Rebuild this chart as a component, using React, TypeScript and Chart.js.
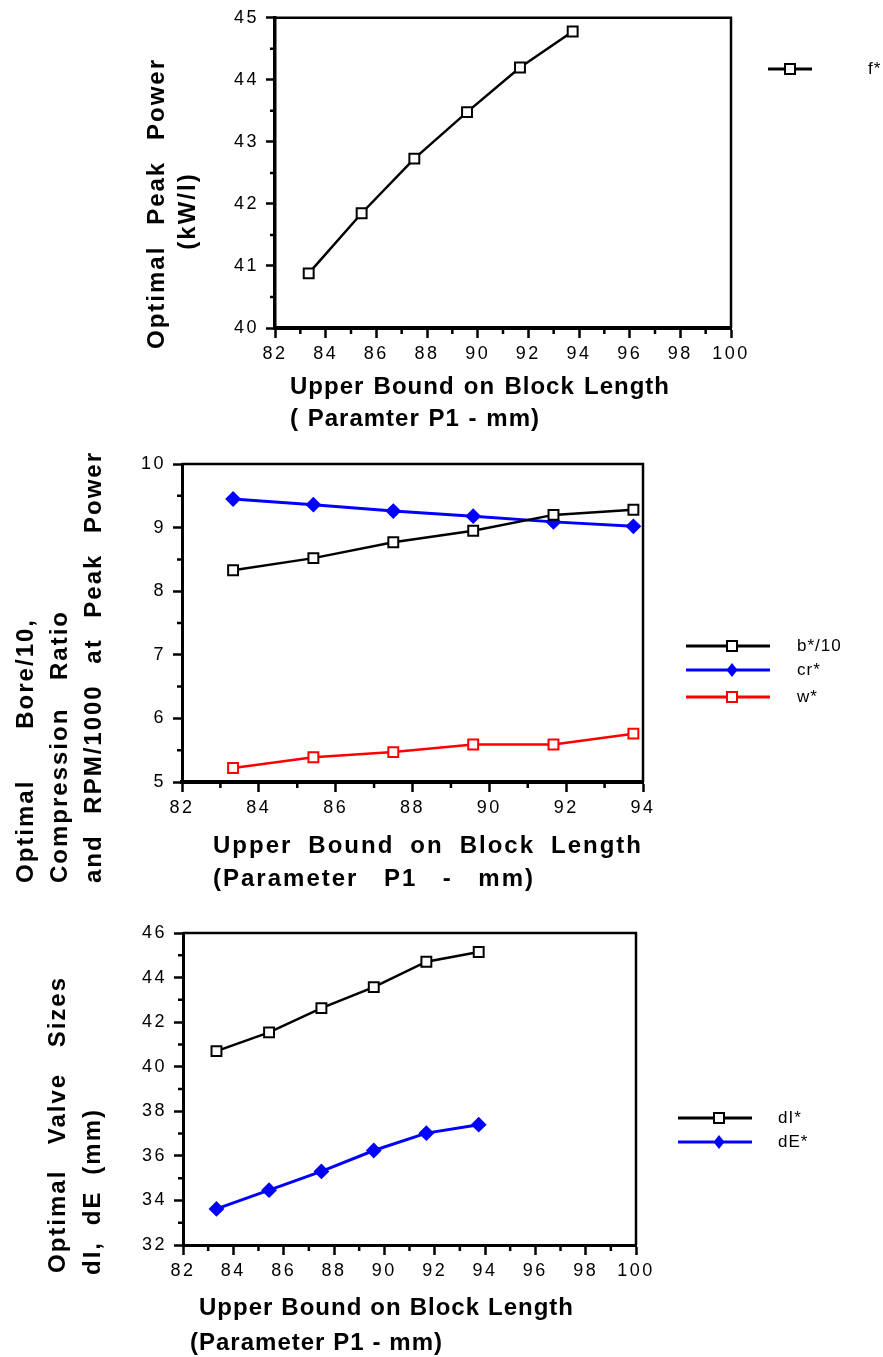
import React, { useEffect, useRef } from 'react';
import { Chart, registerables } from 'chart.js';

Chart.register(...registerables);

// ---------------- data ----------------
const P1 = [83.33, 85.42, 87.5, 89.58, 91.67, 93.75];
const peakPower = [40.88, 41.85, 42.73, 43.48, 44.2, 44.78];
const bore10 = [8.33, 8.52, 8.77, 8.95, 9.2, 9.28];
const compRatio = [9.45, 9.36, 9.26, 9.18, 9.09, 9.02];
const rpm1000 = [5.22, 5.39, 5.47, 5.59, 5.59, 5.76];
const intakeValve = [40.7, 41.54, 42.63, 43.57, 44.71, 45.15];
const exhaustValve = [33.62, 34.46, 35.3, 36.24, 37.02, 37.4];

const xRange1 = [82, 100];
const yRange1 = [40, 45];
const xRange2 = [82, 94];
const yRange2 = [5, 10];
const xRange3 = [82, 100];
const yRange3 = [32, 46];

const legend1 = ['f*'];
const legend2 = ['b*/10', 'cr*', 'w*'];
const legend3 = ['dI*', 'dE*'];

const W = 883;
const FONT = '"Liberation Sans", Arial, Helvetica, sans-serif';

type Series = { label: string; values: number[]; color: string; width: number; marker: 'square' | 'diamond' };
type TitleLine = { words: string[]; dir: 'h' | 'v'; cross: number; from: number; to?: number; spacing: number };
type LegendSpec = { x0: number; x1: number; mx: number; lx: number; ys: number[] };
type Panel = {
  height: number;
  xRange: number[];
  yRange: number[];
  xStep: number;
  yStep: number;
  xMinor: number;
  yMinor: number;
  series: Series[];
  area: { left: number; right: number; top: number; bottom: number };
  bottomWidth: number;
  leftWidth: number;
  frameWidth: number;
  titles: TitleLine[];
  legend: LegendSpec;
};

const BLACK = '#000000';
const BLUE = '#0000ff';
const RED = '#ff0000';

const PANELS: Panel[] = [
  {
    height: 440,
    xRange: xRange1, yRange: yRange1, xStep: 2, yStep: 1, xMinor: 1, yMinor: 0.5,
    series: [{ label: legend1[0], values: peakPower, color: BLACK, width: 2.5, marker: 'square' }],
    area: { left: 275, right: 731, top: 11, bottom: 328 },
    bottomWidth: 4, leftWidth: 3.5, frameWidth: 2.5,
    titles: [
      { words: ['Optimal', 'Peak', 'Power'], dir: 'v', cross: 157, from: 349, to: 60, spacing: 2 },
      { words: ['(kW/l)'], dir: 'v', cross: 188, from: 212, spacing: 2 },
      { words: ['Upper', 'Bound', 'on', 'Block', 'Length'], dir: 'h', cross: 387, from: 290, to: 669, spacing: 1 },
      { words: ['(', 'Paramter', 'P1', '-', 'mm)'], dir: 'h', cross: 419, from: 290, to: 539, spacing: 1 },
    ],
    legend: { x0: 768, x1: 812, mx: 790, lx: 868, ys: [69] },
  },
  {
    height: 460,
    xRange: xRange2, yRange: yRange2, xStep: 2, yStep: 1, xMinor: 1, yMinor: 0.5,
    series: [
      { label: legend2[0], values: bore10, color: BLACK, width: 2.5, marker: 'square' },
      { label: legend2[1], values: compRatio, color: BLUE, width: 3, marker: 'diamond' },
      { label: legend2[2], values: rpm1000, color: RED, width: 2.5, marker: 'square' },
    ],
    area: { left: 182, right: 643, top: 24, bottom: 342 },
    bottomWidth: 4, leftWidth: 3, frameWidth: 2.5,
    titles: [
      { words: ['Optimal', 'Bore/10,'], dir: 'v', cross: 26, from: 443, to: 180, spacing: 2 },
      { words: ['Compression', 'Ratio'], dir: 'v', cross: 60, from: 443, to: 172, spacing: 2 },
      { words: ['and', 'RPM/1000', 'at', 'Peak', 'Power'], dir: 'v', cross: 94, from: 443, to: 13, spacing: 2 },
      { words: ['Upper', 'Bound', 'on', 'Block', 'Length'], dir: 'h', cross: 406, from: 213, to: 641, spacing: 2 },
      { words: ['(Parameter', 'P1', '-', 'mm)'], dir: 'h', cross: 439, from: 213, to: 533, spacing: 2 },
    ],
    legend: { x0: 686, x1: 770, mx: 732, lx: 797, ys: [206, 230, 257] },
  },
  {
    height: 457,
    xRange: xRange3, yRange: yRange3, xStep: 2, yStep: 2, xMinor: 1, yMinor: 1,
    series: [
      { label: legend3[0], values: intakeValve, color: BLACK, width: 2.5, marker: 'square' },
      { label: legend3[1], values: exhaustValve, color: BLUE, width: 3, marker: 'diamond' },
    ],
    area: { left: 183, right: 636, top: 33, bottom: 345 },
    bottomWidth: 3, leftWidth: 3, frameWidth: 2.5,
    titles: [
      { words: ['Optimal', 'Valve', 'Sizes'], dir: 'v', cross: 58, from: 373, to: 78, spacing: 2 },
      { words: ['dI,', 'dE', '(mm)'], dir: 'v', cross: 93, from: 375, to: 210, spacing: 2 },
      { words: ['Upper', 'Bound', 'on', 'Block', 'Length'], dir: 'h', cross: 408, from: 199, to: 573, spacing: 1 },
      { words: ['(Parameter', 'P1', '-', 'mm)'], dir: 'h', cross: 443, from: 190, to: 442, spacing: 1 },
    ],
    legend: { x0: 678, x1: 752, mx: 719, lx: 778, ys: [218, 242] },
  },
];

const Y_AXIS_W = 60;
const X_AXIS_H = 40;

function drawTitleLine(ctx: any, ln: TitleLine) {
  ctx.save();
  ctx.font = 'bold 24px ' + FONT;
  ctx.letterSpacing = ln.spacing + 'px';
  ctx.fillStyle = '#000';
  ctx.textBaseline = 'middle';
  ctx.textAlign = 'left';
  const widths = ln.words.map((w) => ctx.measureText(w).width - ln.spacing);
  const total = widths.reduce((s, v) => s + v, 0);
  const n = ln.words.length;
  let gap: number;
  let start: number;
  if (ln.to === undefined) {
    gap = ctx.measureText(' ').width;
    const full = total + gap * (n - 1);
    start = ln.dir === 'v' ? ln.from + full / 2 : ln.from - full / 2;
  } else {
    const span = Math.abs(ln.to - ln.from);
    gap = n > 1 ? (span - total) / (n - 1) : 0;
    start = ln.from;
  }
  let d = 0;
  ln.words.forEach((w, i) => {
    if (ln.dir === 'v') {
      ctx.save();
      ctx.translate(ln.cross, start - d);
      ctx.rotate(-Math.PI / 2);
      ctx.fillText(w, 0, 0);
      ctx.restore();
    } else {
      ctx.fillText(w, start + d, ln.cross);
    }
    d += widths[i] + gap;
  });
  ctx.restore();
}

function drawMarker(ctx: any, kind: string, color: string, x: number, y: number) {
  ctx.save();
  ctx.lineWidth = 2;
  ctx.strokeStyle = color;
  if (kind === 'square') {
    ctx.fillStyle = '#fff';
    ctx.fillRect(x - 5, y - 5, 10, 10);
    ctx.strokeRect(x - 5, y - 5, 10, 10);
  } else {
    ctx.fillStyle = color;
    ctx.beginPath();
    ctx.moveTo(x, y - 7);
    ctx.lineTo(x + 5.5, y);
    ctx.lineTo(x, y + 7);
    ctx.lineTo(x - 5.5, y);
    ctx.closePath();
    ctx.fill();
  }
  ctx.restore();
}

function decorPlugin(p: Panel) {
  return {
    id: 'decor',
    beforeDraw(chart: any) {
      chart.ctx.letterSpacing = '2.5px';
    },
    afterDraw(chart: any) {
      const ctx = chart.ctx;
      const a = chart.chartArea;
      const xs = chart.scales.x;
      const ys = chart.scales.y;
      ctx.save();
      ctx.letterSpacing = '0px';
      // top and right frame
      ctx.strokeStyle = '#000';
      ctx.lineWidth = p.frameWidth;
      ctx.beginPath();
      ctx.moveTo(a.left, a.top);
      ctx.lineTo(a.right, a.top);
      ctx.lineTo(a.right, a.bottom);
      ctx.stroke();
      // minor ticks
      ctx.lineWidth = 2.5;
      ctx.beginPath();
      const nx = Math.round((p.xRange[1] - p.xRange[0]) / p.xMinor);
      for (let i = 0; i <= nx; i++) {
        const v = p.xRange[0] + i * p.xMinor;
        const q = (v - p.xRange[0]) / p.xStep;
        if (Math.abs(q - Math.round(q)) < 1e-6) continue;
        const px = xs.getPixelForValue(v);
        ctx.moveTo(px, a.bottom);
        ctx.lineTo(px, a.bottom + 6);
      }
      const ny = Math.round((p.yRange[1] - p.yRange[0]) / p.yMinor);
      for (let i = 0; i <= ny; i++) {
        const v = p.yRange[0] + i * p.yMinor;
        const q = (v - p.yRange[0]) / p.yStep;
        if (Math.abs(q - Math.round(q)) < 1e-6) continue;
        const py = ys.getPixelForValue(v);
        ctx.moveTo(a.left - 5, py);
        ctx.lineTo(a.left, py);
      }
      ctx.stroke();
      // titles
      p.titles.forEach((t) => drawTitleLine(ctx, t));
      // legend
      const lg = p.legend;
      p.series.forEach((s, i) => {
        const y = lg.ys[i];
        ctx.save();
        ctx.strokeStyle = s.color;
        ctx.lineWidth = 3;
        ctx.beginPath();
        ctx.moveTo(lg.x0, y);
        ctx.lineTo(lg.x1, y);
        ctx.stroke();
        ctx.restore();
        drawMarker(ctx, s.marker, s.color, lg.mx, y);
        ctx.save();
        ctx.font = '17px ' + FONT;
        ctx.letterSpacing = '1px';
        ctx.fillStyle = '#000';
        ctx.textAlign = 'left';
        ctx.textBaseline = 'middle';
        ctx.fillText(s.label, lg.lx, y);
        ctx.restore();
      });
      ctx.restore();
    },
  };
}

function buildConfig(p: Panel) {
  const tickFont = { family: FONT, size: 18, weight: 'normal' as const };
  return {
    type: 'line',
    data: {
      datasets: p.series.map((s) => ({
        label: s.label,
        data: P1.map((x, i) => ({ x, y: s.values[i] })),
        borderColor: s.color,
        backgroundColor: s.color,
        borderWidth: s.width,
        pointStyle: s.marker === 'square' ? 'rect' : 'rectRot',
        pointRadius: s.marker === 'square' ? 7 : 6.5,
        pointBackgroundColor: s.marker === 'square' ? '#ffffff' : s.color,
        pointBorderColor: s.color,
        pointBorderWidth: 2,
        fill: false,
        tension: 0,
        clip: false,
      })),
    },
    options: {
      responsive: false,
      animation: false,
      events: [],
      layout: {
        padding: {
          left: p.area.left - Y_AXIS_W,
          right: W - p.area.right,
          top: p.area.top,
          bottom: p.height - p.area.bottom - X_AXIS_H,
        },
      },
      plugins: { legend: { display: false }, tooltip: { enabled: false } },
      scales: {
        x: {
          type: 'linear',
          min: p.xRange[0],
          max: p.xRange[1],
          ticks: { stepSize: p.xStep, autoSkip: false, maxRotation: 0, font: tickFont, color: '#000', padding: 5 },
          grid: { drawOnChartArea: false, drawTicks: true, tickLength: 10, tickWidth: 2.5, tickColor: '#000' },
          border: { display: true, color: '#000', width: p.bottomWidth },
          afterFit: (s: any) => { s.height = X_AXIS_H; },
        },
        y: {
          type: 'linear',
          min: p.yRange[0],
          max: p.yRange[1],
          ticks: { stepSize: p.yStep, autoSkip: false, font: tickFont, color: '#000', padding: 7 },
          grid: { drawOnChartArea: false, drawTicks: true, tickLength: 9, tickWidth: 2.5, tickColor: '#000' },
          border: { display: true, color: '#000', width: p.leftWidth },
          afterFit: (s: any) => { s.width = Y_AXIS_W; },
        },
      },
    },
    plugins: [decorPlugin(p)],
  };
}

function ChartPanel({ panel }: { panel: Panel }) {
  const ref = useRef<HTMLCanvasElement>(null);
  useEffect(() => {
    if (!ref.current) return;
    const chart = new Chart(ref.current, buildConfig(panel) as any);
    return () => chart.destroy();
  }, [panel]);
  return (
    <canvas
      ref={ref}
      width={W}
      height={panel.height}
      style={{ display: 'block', width: W, height: panel.height }}
    />
  );
}

export default function App() {
  return (
    <div style={{ position: 'absolute', left: 0, top: 0, width: W, height: 1357, background: '#fff' }}>
      {PANELS.map((p, i) => (
        <ChartPanel key={i} panel={p} />
      ))}
    </div>
  );
}
